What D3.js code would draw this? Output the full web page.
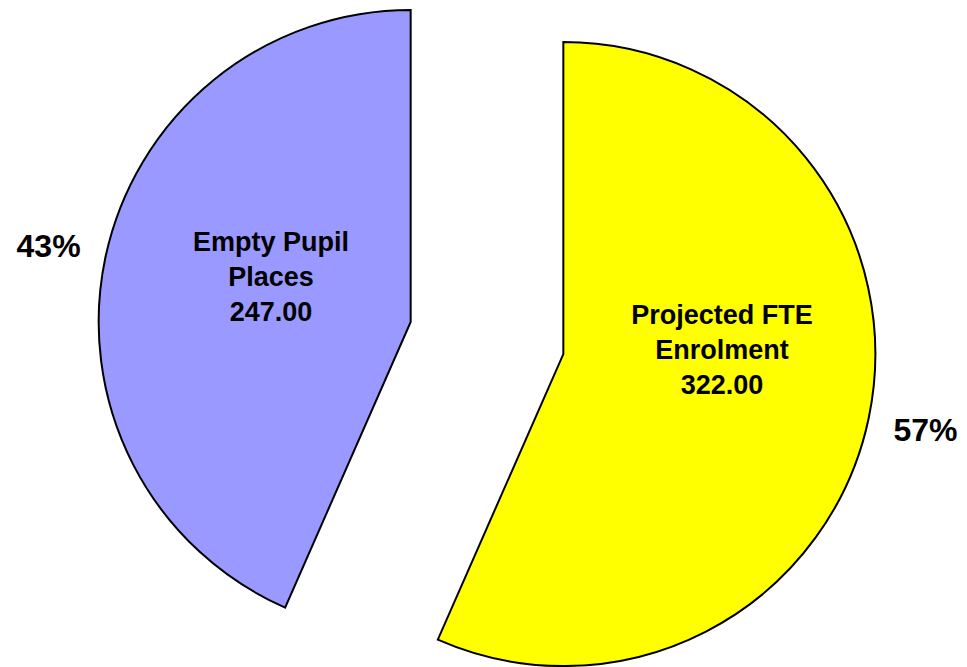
<!DOCTYPE html>
<html>
<head>
<meta charset="utf-8">
<script src="https://d3js.org/d3.v7.min.js"></script>
<style>
  body { margin: 0; background: #fff; }
  text { font-family: "Liberation Sans", Arial, sans-serif; font-weight: bold; fill: #000; }
</style>
</head>
<body>
<div class="contents"></div>
<script>
// data
var categories = ["Projected FTE Enrolment", "Empty Pupil Places"];
var labelLines = [["Projected FTE", "Enrolment"], ["Empty Pupil", "Places"]];
var values = [322, 247];
var colors = ["#FFFF00", "#9999FF"];

var width = 967;
var height = 667;

var cx = 487, cy = 338;
var radius = 312;
var explode = 78;
// nudges for the inside labels, the way the chart placed them
var innerNudge = [{"dx": 6, "dy": -36}, {"dx": 13, "dy": -13}];

var svg = d3.select(".contents").append("svg")
			.attr("width", width)
			.attr("height", height);

var total = d3.sum(values);
var pct = d3.format(".0%");

var pie = d3.pie().sort(null).value(function(d){return d;});
var arcs = pie(values);

var arc = d3.arc().innerRadius(0).outerRadius(radius);

function mid(d){ return (d.startAngle + d.endAngle) / 2; }
function offset(d, r){
	var a = mid(d);
	return [r * Math.sin(a), -r * Math.cos(a)];
}

var g = svg.append("g").attr("transform", "translate(" + cx + "," + cy + ")");

var slice = g.selectAll("g.slice")
		.data(arcs)
		.enter()
		.append("g")
		.attr("class", "slice")
		.attr("transform", function(d){
			var o = offset(d, explode);
			return "translate(" + o[0] + "," + o[1] + ")";
		});

slice.append("path")
		.attr("d", arc)
		.style("fill", function(d, i){return colors[i];})
		.style("stroke", "#000")
		.style("stroke-width", 2)
		.style("stroke-linejoin", "miter");

// inside labels: name lines + value
slice.each(function(d, i){
	var c = arc.centroid(d);
	var x = c[0] + innerNudge[i].dx;
	var y = c[1] + innerNudge[i].dy;
	var lines = labelLines[i].concat([d3.format(".2f")(values[i])]);
	var t = d3.select(this).append("text")
			.attr("text-anchor", "middle")
			.style("font-size", "27px");
	lines.forEach(function(s, k){
		t.append("tspan")
			.attr("x", x)
			.attr("y", y + (k - 1) * 35 + 9)
			.text(s);
	});
});

// outside percentage labels
slice.append("text")
		.attr("text-anchor", "middle")
		.attr("dominant-baseline", "central")
		.style("font-size", "32px")
		.attr("x", function(d){return offset(d, radius + 58)[0];})
		.attr("y", function(d){return offset(d, radius + 58)[1];})
		.text(function(d, i){return pct(values[i] / total);});
</script>
</body>
</html>
